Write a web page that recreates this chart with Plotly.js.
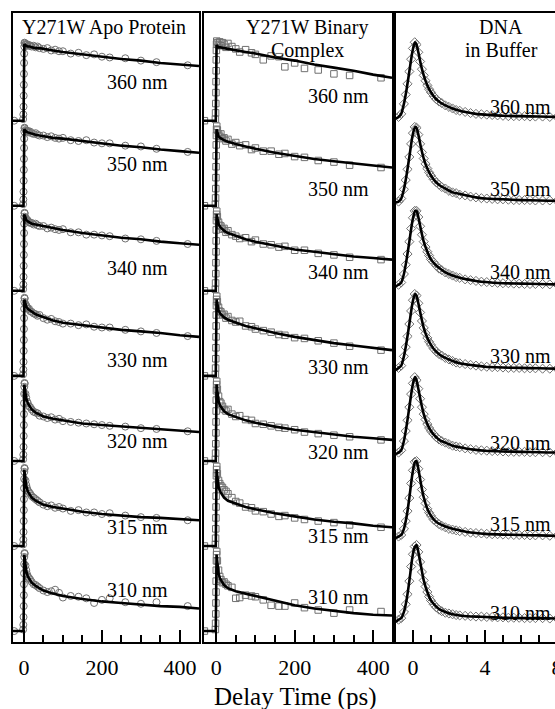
<!DOCTYPE html>
<html><head><meta charset="utf-8">
<script src="https://cdn.plot.ly/plotly-3.0.1.min.js"></script>
<style>html,body{margin:0;padding:0;overflow:hidden;background:#fff}#chart{width:600px;height:709px}</style>
</head><body><div id="chart"></div>
<script>
// ---------- DATA ----------
const wavelengths = ['360 nm','350 nm','340 nm','330 nm','320 nm','315 nm','310 nm'];
const panelTitles = [['Y271W Apo Protein'], ['Y271W Binary', 'Complex'], ['DNA', 'in Buffer']];
const xTitle = 'Delay Time (ps)';

// Panel 1: Y271W Apo Protein (ps)
const apoTimeData = [-25,-2,-1.5,-1,-0.6,-0.3,0,0.3,0.6,1,1.5,2,4,6,8,10,13,16,20,25,30,35,40,50,60,70,80,90,100,120,140,160,180,200,220,260,300,340,420];
const apo360 = [0,0.02,0.08,0.18,0.32,0.46,0.6,0.74,0.86,0.95,1.0,0.99,0.98,0.97,0.98,0.96,0.97,0.96,0.95,0.96,0.94,0.95,0.93,0.92,0.93,0.90,0.91,0.89,0.89,0.86,0.87,0.84,0.85,0.82,0.81,0.80,0.77,0.75,0.71];
const apo350 = [0,0.02,0.08,0.18,0.32,0.46,0.6,0.74,0.86,0.95,1.0,0.99,0.97,0.96,0.95,0.96,0.94,0.95,0.93,0.92,0.93,0.91,0.90,0.90,0.88,0.89,0.87,0.86,0.87,0.84,0.83,0.84,0.81,0.80,0.80,0.77,0.76,0.73,0.69];
const apo340 = [0,0.02,0.08,0.18,0.32,0.46,0.6,0.74,0.86,0.95,1.0,0.99,0.94,0.92,0.91,0.90,0.88,0.87,0.87,0.85,0.86,0.84,0.83,0.83,0.80,0.81,0.79,0.78,0.79,0.75,0.75,0.72,0.72,0.71,0.70,0.67,0.66,0.64,0.60];
const apo330 = [0,0.02,0.08,0.18,0.32,0.46,0.6,0.74,0.86,0.95,1.0,0.99,0.92,0.90,0.88,0.86,0.86,0.83,0.82,0.80,0.79,0.77,0.78,0.74,0.72,0.73,0.70,0.69,0.67,0.67,0.65,0.66,0.63,0.62,0.62,0.59,0.57,0.55,0.51];
const apo320 = [0,0.02,0.08,0.18,0.32,0.46,0.6,0.74,0.86,0.95,1.0,0.99,0.86,0.81,0.76,0.74,0.70,0.69,0.66,0.63,0.62,0.61,0.58,0.57,0.55,0.56,0.53,0.54,0.51,0.50,0.49,0.48,0.47,0.46,0.45,0.44,0.42,0.41,0.38];
const apo315 = [0,0.02,0.08,0.18,0.32,0.46,0.6,0.74,0.86,0.95,1.0,0.99,0.84,0.78,0.74,0.71,0.69,0.67,0.64,0.62,0.60,0.58,0.56,0.53,0.51,0.52,0.49,0.50,0.48,0.45,0.46,0.43,0.43,0.41,0.42,0.39,0.37,0.36,0.33];
const apo310 = [0,0.02,0.08,0.18,0.32,0.46,0.6,0.74,0.86,0.95,1.0,0.99,0.84,0.78,0.73,0.70,0.68,0.66,0.63,0.60,0.59,0.57,0.55,0.52,0.50,0.51,0.53,0.49,0.43,0.45,0.44,0.42,0.36,0.40,0.42,0.37,0.35,0.37,0.32];
const apoTimeFit = [-28,-1,1,3,6,10,15,20,30,40,50,75,100,150,200,250,300,350,400,449];
const apoFit360 = [0,0,0.98,0.97,0.96,0.95,0.95,0.94,0.93,0.93,0.92,0.90,0.88,0.85,0.82,0.79,0.77,0.74,0.72,0.70];
const apoFit350 = [0,0,0.98,0.96,0.95,0.94,0.93,0.92,0.91,0.90,0.89,0.87,0.86,0.83,0.80,0.77,0.75,0.72,0.70,0.68];
const apoFit340 = [0,0,0.98,0.94,0.91,0.89,0.87,0.86,0.85,0.84,0.83,0.80,0.78,0.74,0.71,0.68,0.66,0.63,0.61,0.59];
const apoFit330 = [0,0,0.98,0.93,0.89,0.86,0.84,0.82,0.79,0.77,0.75,0.71,0.68,0.65,0.62,0.59,0.57,0.55,0.52,0.50];
const apoFit320 = [0,0,0.98,0.88,0.80,0.74,0.69,0.66,0.62,0.59,0.57,0.54,0.52,0.48,0.46,0.44,0.42,0.40,0.38,0.37];
const apoFit315 = [0,0,0.98,0.86,0.77,0.70,0.65,0.62,0.58,0.55,0.53,0.50,0.48,0.44,0.41,0.39,0.37,0.36,0.34,0.33];
const apoFit310 = [0,0,0.98,0.86,0.77,0.70,0.65,0.62,0.58,0.55,0.52,0.48,0.45,0.41,0.38,0.36,0.34,0.32,0.31,0.29];

// Panel 2: Y271W Binary Complex (ps)
const binTimeData = [-30,-2,-1.5,-1,-0.6,-0.3,0,0.3,0.6,1,1.5,3,6,9,12,16,20,25,30,40,50,60,75,90,100,120,140,160,175,200,225,260,300,340,420];
const bin360 = [0,0.02,0.1,0.22,0.36,0.5,0.64,0.78,0.9,0.98,1.02,1.0,0.97,1.01,0.96,1.0,0.98,0.94,0.99,0.95,0.92,0.88,0.91,0.87,0.85,0.78,0.83,0.82,0.69,0.74,0.67,0.65,0.60,0.58,0.55];
const bin350 = [0,0.02,0.1,0.22,0.36,0.5,0.64,0.78,0.9,0.98,1.02,0.97,0.92,0.89,0.92,0.86,0.87,0.83,0.85,0.79,0.81,0.77,0.78,0.72,0.74,0.70,0.70,0.66,0.67,0.63,0.62,0.58,0.56,0.52,0.49];
const bin340 = [0,0.02,0.1,0.22,0.36,0.5,0.64,0.78,0.9,0.98,1.02,0.95,0.88,0.84,0.83,0.79,0.80,0.75,0.77,0.72,0.70,0.67,0.68,0.63,0.65,0.60,0.59,0.56,0.57,0.52,0.52,0.48,0.46,0.43,0.40];
const bin330 = [0,0.02,0.1,0.22,0.36,0.5,0.64,0.78,0.9,0.98,1.02,0.95,0.88,0.83,0.82,0.78,0.79,0.74,0.76,0.71,0.69,0.70,0.64,0.63,0.60,0.58,0.56,0.53,0.52,0.49,0.48,0.45,0.42,0.38,0.33];
const bin320 = [0,0.02,0.1,0.22,0.36,0.5,0.64,0.78,0.9,0.98,1.02,0.92,0.83,0.76,0.74,0.70,0.66,0.64,0.66,0.60,0.57,0.58,0.53,0.52,0.48,0.47,0.45,0.43,0.42,0.40,0.37,0.35,0.33,0.31,0.27];
const bin315 = [0,0.02,0.1,0.22,0.36,0.5,0.64,0.78,0.9,0.98,1.02,0.93,0.84,0.80,0.77,0.75,0.72,0.70,0.67,0.62,0.57,0.55,0.50,0.49,0.45,0.44,0.41,0.38,0.39,0.36,0.34,0.32,0.30,0.27,0.24];
const bin310 = [0,0.02,0.1,0.22,0.36,0.5,0.64,0.78,0.9,0.98,1.02,0.90,0.78,0.70,0.66,0.62,0.63,0.60,0.58,0.56,0.42,0.43,0.46,0.45,0.44,0.40,0.33,0.32,0.32,0.36,0.30,0.27,0.23,0.27,0.25];
const binTimeFit = [-31,-1,1,3,6,10,15,20,30,40,50,75,100,150,200,250,300,350,400,448];
const binFit360 = [0,0,0.97,0.95,0.94,0.94,0.93,0.93,0.92,0.91,0.90,0.88,0.86,0.81,0.77,0.72,0.68,0.64,0.59,0.55];
const binFit350 = [0,0,0.98,0.93,0.89,0.87,0.85,0.84,0.82,0.80,0.79,0.76,0.73,0.68,0.64,0.60,0.57,0.54,0.51,0.49];
const binFit340 = [0,0,0.98,0.91,0.86,0.82,0.79,0.77,0.74,0.72,0.70,0.66,0.63,0.58,0.53,0.50,0.47,0.44,0.42,0.40];
const binFit330 = [0,0,0.98,0.90,0.84,0.80,0.77,0.75,0.72,0.70,0.68,0.64,0.61,0.55,0.50,0.46,0.42,0.39,0.36,0.33];
const binFit320 = [0,0,0.98,0.86,0.77,0.71,0.67,0.64,0.60,0.58,0.56,0.52,0.49,0.44,0.40,0.37,0.34,0.31,0.29,0.27];
const binFit315 = [0,0,0.98,0.85,0.76,0.70,0.65,0.62,0.58,0.56,0.54,0.50,0.47,0.42,0.38,0.34,0.31,0.29,0.26,0.24];
const binFit310 = [0,0,0.98,0.84,0.74,0.67,0.62,0.59,0.55,0.53,0.51,0.48,0.45,0.39,0.33,0.29,0.26,0.23,0.21,0.20];

// Panel 3: DNA in Buffer (ps)
const dnaTimeData = [-0.8,-0.65,-0.5,-0.4,-0.3,-0.2,-0.1,0,0.1,0.2,0.3,0.4,0.5,0.6,0.7,0.8,0.9,1.0,1.15,1.3,1.45,1.6,1.8,2.0,2.2,2.4,2.6,2.9,3.2,3.5,3.8,4.1,4.4,4.7,5.0,5.3,5.6,5.9,6.2,6.5,6.8,7.2,7.6,8.0];
const dna360 = [0.02,0.06,0.19,0.31,0.45,0.61,0.77,0.91,0.99,0.96,0.86,0.74,0.64,0.56,0.49,0.43,0.38,0.34,0.29,0.25,0.22,0.20,0.17,0.15,0.13,0.11,0.10,0.085,0.07,0.06,0.055,0.05,0.045,0.04,0.035,0.03,0.03,0.03,0.03,0.025,0.025,0.025,0.02,0.02];
const dna350 = [0.01,0.05,0.17,0.29,0.43,0.59,0.76,0.90,0.98,0.97,0.88,0.76,0.65,0.57,0.50,0.44,0.39,0.35,0.30,0.26,0.23,0.20,0.18,0.15,0.13,0.12,0.10,0.09,0.075,0.065,0.055,0.05,0.045,0.04,0.04,0.035,0.03,0.03,0.03,0.03,0.025,0.025,0.025,0.02];
const dna340 = [0.02,0.05,0.16,0.28,0.42,0.58,0.75,0.89,0.98,0.98,0.90,0.78,0.67,0.58,0.51,0.45,0.40,0.35,0.31,0.27,0.23,0.21,0.18,0.16,0.14,0.12,0.11,0.09,0.08,0.07,0.06,0.055,0.05,0.045,0.04,0.04,0.035,0.035,0.03,0.03,0.03,0.03,0.025,0.025];
const dna330 = [0.03,0.06,0.18,0.30,0.44,0.60,0.77,0.91,0.99,0.97,0.87,0.75,0.64,0.55,0.48,0.42,0.37,0.33,0.28,0.24,0.21,0.19,0.16,0.14,0.12,0.10,0.09,0.08,0.07,0.06,0.05,0.045,0.04,0.04,0.035,0.03,0.03,0.03,0.025,0.025,0.025,0.02,0.02,0.02];
const dna320 = [0.02,0.05,0.17,0.30,0.44,0.61,0.78,0.92,1.0,0.96,0.85,0.72,0.61,0.52,0.45,0.39,0.34,0.30,0.26,0.22,0.19,0.17,0.15,0.13,0.11,0.10,0.09,0.075,0.065,0.055,0.05,0.045,0.04,0.04,0.035,0.03,0.03,0.03,0.03,0.025,0.025,0.025,0.02,0.02];
const dna315 = [0.02,0.04,0.12,0.22,0.35,0.52,0.71,0.88,0.99,1.0,0.90,0.76,0.63,0.53,0.45,0.38,0.33,0.29,0.24,0.21,0.18,0.16,0.14,0.12,0.11,0.10,0.09,0.08,0.07,0.065,0.06,0.055,0.05,0.05,0.045,0.045,0.04,0.04,0.04,0.035,0.035,0.035,0.03,0.03];
const dna310 = [0.03,0.05,0.13,0.23,0.36,0.53,0.72,0.88,0.98,1.0,0.91,0.78,0.65,0.54,0.46,0.39,0.33,0.28,0.23,0.19,0.16,0.14,0.12,0.11,0.10,0.09,0.085,0.08,0.075,0.07,0.07,0.065,0.065,0.06,0.06,0.055,0.055,0.055,0.05,0.05,0.05,0.05,0.045,0.045];
const dnaTimeFit = [-0.95,-0.8,-0.65,-0.5,-0.35,-0.2,-0.05,0.05,0.12,0.2,0.3,0.45,0.6,0.8,1.0,1.25,1.5,1.8,2.2,2.6,3.0,3.5,4.0,5.0,6.0,7.0,8.0,9.0];
const dnaFit360 = [0,0.02,0.06,0.19,0.38,0.61,0.84,0.95,0.99,0.96,0.86,0.69,0.56,0.43,0.34,0.26,0.21,0.17,0.13,0.10,0.08,0.06,0.05,0.035,0.03,0.025,0.02,0.02];
const dnaFit350 = [0,0.01,0.05,0.17,0.36,0.59,0.83,0.94,0.98,0.97,0.88,0.71,0.57,0.44,0.35,0.27,0.22,0.18,0.13,0.11,0.09,0.065,0.05,0.04,0.03,0.025,0.02,0.02];
const dnaFit340 = [0,0.02,0.05,0.16,0.35,0.58,0.82,0.93,0.98,0.98,0.90,0.73,0.58,0.45,0.35,0.28,0.23,0.18,0.14,0.11,0.09,0.07,0.055,0.04,0.035,0.03,0.025,0.025];
const dnaFit330 = [0,0.03,0.06,0.18,0.37,0.60,0.84,0.95,0.99,0.97,0.87,0.70,0.55,0.42,0.33,0.25,0.20,0.16,0.12,0.09,0.075,0.06,0.045,0.035,0.03,0.025,0.02,0.02];
const dnaFit320 = [0,0.02,0.05,0.17,0.37,0.61,0.85,0.96,1.0,0.96,0.85,0.67,0.52,0.39,0.30,0.23,0.18,0.15,0.11,0.09,0.07,0.055,0.045,0.035,0.03,0.025,0.02,0.02];
const dnaFit315 = [0,0.02,0.04,0.12,0.28,0.52,0.80,0.94,0.99,1.0,0.90,0.70,0.53,0.38,0.29,0.22,0.18,0.15,0.12,0.10,0.08,0.065,0.055,0.045,0.04,0.035,0.03,0.03];
const dnaFit310 = [0,0.03,0.05,0.13,0.29,0.53,0.81,0.94,0.98,1.0,0.91,0.72,0.54,0.39,0.28,0.21,0.16,0.13,0.10,0.085,0.075,0.07,0.065,0.055,0.05,0.05,0.045,0.045];

// ---------- BUILD ----------
const FONT = 'Liberation Serif, Times New Roman, serif';
const STEP = 1.09; // vertical stacking offset between wavelengths
const W = 600, H = 709;

const panels = [
  {xa:'x',  ya:'y',  tD: apoTimeData, tF: apoTimeFit, sym:'circle-open', size:7, shape:'linear',
   data:[apo360,apo350,apo340,apo330,apo320,apo315,apo310],
   fit:[apoFit360,apoFit350,apoFit340,apoFit330,apoFit320,apoFit315,apoFit310],
   lab:{x:290, dy:[0.50,0.53,0.29,0.20,0.26,0.24,0.53]}},
  {xa:'x2', ya:'y2', tD: binTimeData, tF: binTimeFit, sym:'square-open', size:6.5, shape:'linear',
   data:[bin360,bin350,bin340,bin330,bin320,bin315,bin310],
   fit:[binFit360,binFit350,binFit340,binFit330,binFit320,binFit315,binFit310],
   lab:{x:311, dy:[0.31,0.22,0.24,0.12,0.12,0.13,0.44]}},
  {xa:'x3', ya:'y3', tD: dnaTimeData, tF: dnaTimeFit, sym:'diamond-open', size:7, shape:'spline',
   data:[dna360,dna350,dna340,dna330,dna320,dna315,dna310],
   fit:[dnaFit360,dnaFit350,dnaFit340,dnaFit330,dnaFit320,dnaFit315,dnaFit310],
   lab:{x:5.95, dy:[0.15,0.17,0.19,0.18,0.15,0.18,0.12]}}
];

const traces = [], annotations = [];
panels.forEach(p => {
  p.data.forEach((vals, i) => {
    const off = (wavelengths.length - 1 - i) * STEP;
    traces.push({x:p.tD, y:vals.map(v => v + off), xaxis:p.xa, yaxis:p.ya, type:'scatter', mode:'markers',
      marker:{symbol:p.sym, size:p.size, color:'#707070', line:{width:1, color:'#707070'}},
      hoverinfo:'skip', showlegend:false, cliponaxis:true});
  });
  p.fit.forEach((vals, i) => {
    const off = (wavelengths.length - 1 - i) * STEP;
    traces.push({x:p.tF, y:vals.map(v => v + off), xaxis:p.xa, yaxis:p.ya, type:'scatter', mode:'lines',
      line:{color:'#000', width:2.6, shape:p.shape, smoothing:0.6}, hoverinfo:'skip', showlegend:false});
    annotations.push({xref:p.xa, yref:p.ya, x:p.lab.x, y:off + p.lab.dy[i], text:wavelengths[i],
      showarrow:false, xanchor:'center', yanchor:'middle', font:{family:FONT, size:20, color:'#000'}});
  });
});

// titles
function addText(txt, px, py, size, anchor) {
  annotations.push({xref:'paper', yref:'paper', x:px / W, y:1 - py / H, text:txt, showarrow:false,
    xanchor:anchor, yanchor:'middle', font:{family:FONT, size:size, color:'#000'}});
}
addText(panelTitles[0][0], 20, 27, 20, 'left');
addText(panelTitles[1][0], 307, 27, 20, 'center');
addText(panelTitles[1][1], 307, 50, 20, 'center');
addText(panelTitles[2][0], 501, 27, 20, 'center');
addText(panelTitles[2][1], 501, 50, 20, 'center');
addText(xTitle, 295, 697, 25, 'center');

function xax(domainPx, range, dtick, minor, anchor) {
  return {domain:[domainPx[0]/W, domainPx[1]/W], range:range, anchor:anchor,
    showline:true, linewidth:2, linecolor:'#000', mirror:true, showgrid:false, zeroline:false,
    ticks:'inside', ticklen:12, tickwidth:2, tickcolor:'#000', tick0:0, dtick:dtick,
    minor:{dtick:minor, tick0:0, ticks:'inside', ticklen:7, tickwidth:2, tickcolor:'#000', showgrid:false},
    ticklabelstandoff:5, tickfont:{family:FONT, size:22, color:'#000'}, fixedrange:true};
}
function yax(range, anchor) {
  return {domain:[(H-642)/H, (H-13)/H], range:range, anchor:anchor,
    showline:true, linewidth:2, linecolor:'#000', mirror:true, showgrid:false, zeroline:false,
    showticklabels:false, ticks:'', fixedrange:true};
}

const layout = {
  width:W, height:H, margin:{l:0, r:0, t:0, b:0}, paper_bgcolor:'#fff', plot_bgcolor:'#fff',
  showlegend:false,
  xaxis: xax([13,199], [-28,449], 200, 50, 'y'),
  xaxis2: xax([204,392], [-31,448], 200, 50, 'y2'),
  xaxis3: xax([396,575], [-0.94,9.0], 4, 1, 'y3'),
  yaxis: yax([-0.14,7.92], 'x'),
  yaxis2: yax([-0.14,7.92], 'x2'),
  yaxis3: yax([-0.26,7.91], 'x3'),
  annotations: annotations
};

Plotly.newPlot('chart', traces, layout, {displayModeBar:false, staticPlot:true});
</script></body></html>
